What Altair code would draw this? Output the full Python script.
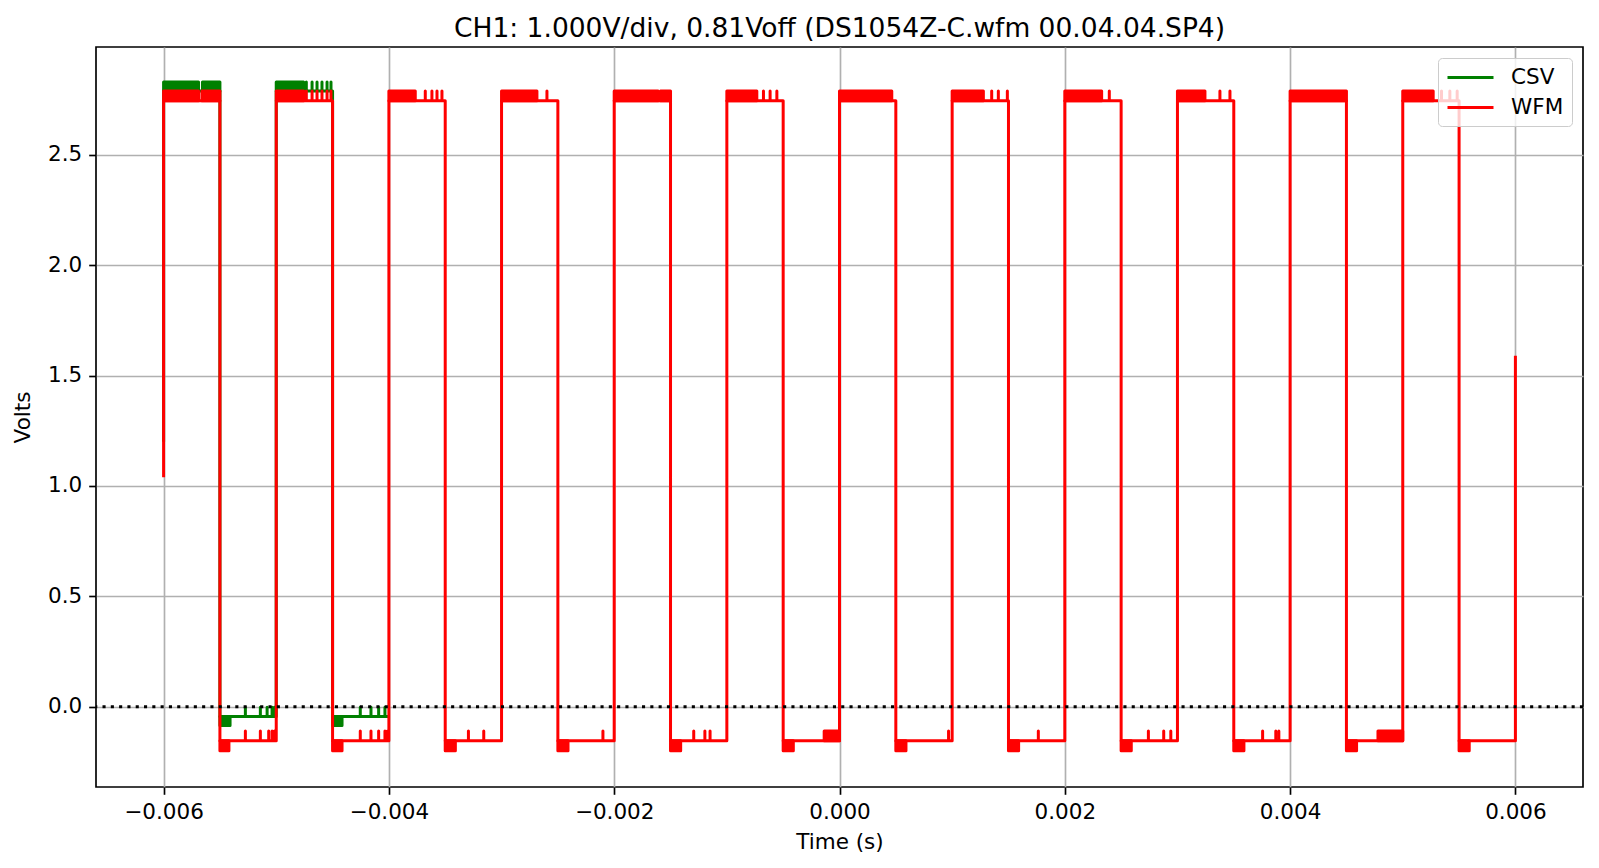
import altair as alt
import pandas as pd

# ---------------- data (times in milliseconds, volts) ----------------
RISE_MS = [-6.0, -5.0, -4.0, -3.0, -2.0, -1.0, 0.0, 1.0, 2.0, 3.0, 4.0, 5.0]
FALL_MS = [-5.5, -4.5, -3.5, -2.5, -1.5, -0.5, 0.5, 1.5, 2.5, 3.5, 4.5, 5.5]
END_MS = 6.0

WFM_START_V = 1.04
WFM_END_V = 1.59
WFM_HIGH = 2.745
WFM_PEAK = 2.79
WFM_LOW = -0.155
WFM_LOW_SPIKE = -0.11
WFM_DIP = -0.2

WFM_HIGH_BANDS = [
    [(-6.0, -5.69), (-5.66, -5.5)],
    [(-5.0, -4.757)],
    [(-4.0, -3.766)],
    [(-3.0, -2.686)],
    [(-2.0, -1.61), (-1.59, -1.5)],
    [(-1.0, -0.734)],
    [(0.0, 0.464)],
    [(1.0, 1.277)],
    [(2.0, 2.327)],
    [(3.0, 3.244)],
    [(4.0, 4.5)],
    [(5.0, 5.27)],
]
WFM_HIGH_SPIKES = [
    [],
    [-4.733, -4.682, -4.638, -4.594, -4.549, -4.514],
    [-3.677, -3.618, -3.573, -3.529],
    [-2.597],
    [],
    [-0.675, -0.616, -0.556],
    [],
    [1.351, 1.41, 1.49],
    [2.395],
    [3.377, 3.466],
    [],
    [5.344, 5.418, 5.483],
]
WFM_DIP_END = [-5.42, -4.416, -3.41, -2.41, -1.41, -0.41, 0.59, 1.59, 2.59, 3.59, 4.59, 5.59]
WFM_LOW_SPIKES = [
    [-5.274, -5.141, -5.067, -5.037, -5.015],
    [-4.254, -4.159, -4.091, -4.035, -4.012],
    [-3.294, -3.158],
    [-2.100],
    [-1.294, -1.195, -1.149],
    [],
    [0.968],
    [1.765],
    [2.742, 2.878, 2.941],
    [3.756, 3.873, 3.900],
    [],
    [],
]
WFM_LOW_BLOCKS = [(-0.136, 0.0), (4.78, 5.0)]

CSV_RISE_MS = [-6.0, -5.0]
CSV_FALL_MS = [-5.5, -4.5]
CSV_END_MS = -4.0
CSV_START_V = 1.2
CSV_HIGH = 2.79
CSV_PEAK = 2.83
CSV_LOW = -0.045
CSV_LOW_SPIKE = -0.003
CSV_DIP = -0.085
CSV_HIGH_BANDS = [[(-6.0, -5.69), (-5.655, -5.5)], [(-5.0, -4.757)]]
CSV_HIGH_SPIKES = [[], [-4.733, -4.682, -4.638, -4.594, -4.549, -4.514]]
CSV_DIP_END = [-5.41, -4.416]
CSV_LOW_SPIKES = [[-5.274, -5.141, -5.081, -5.037, -5.016],
                  [-4.254, -4.159, -4.091, -4.035]]

ZERO_LINE = [0.0]
X_TICKS = [-0.006, -0.004, -0.002, 0.0, 0.002, 0.004, 0.006]
Y_TICKS = [0.0, 0.5, 1.0, 1.5, 2.0, 2.5]
SERIES = ["CSV", "WFM"]
COLORS = ["#008000", "#ff0000"]
TITLE = "CH1: 1.000V/div, 0.81Voff (DS1054Z-C.wfm 00.04.04.SP4)"


def build_path(name, rises, falls, end, start_v, end_v, high, peak, low, lspike,
               hspikes, lspikes):
    pts = []
    for i, (r, f) in enumerate(zip(rises, falls)):
        pts.append((r, start_v if i == 0 else low))
        pts.append((r, high))
        for s in hspikes[i]:
            pts += [(s, high), (s, peak), (s, high)]
        pts.append((f, high))
        pts.append((f, low))
        for s in lspikes[i]:
            pts += [(s, low), (s, lspike), (s, low)]
        nxt = rises[i + 1] if i + 1 < len(rises) else end
        pts.append((nxt, low))
    if end_v is not None:
        pts.append((end, end_v))
    return pd.DataFrame({
        "t": [p[0] * 1e-3 for p in pts],
        "v": [p[1] for p in pts],
        "i": list(range(len(pts))),
        "series": name,
    })


def build_rects(bands, lo, hi, dips=None, falls=None, dlo=None, dhi=None, blocks=None, blo=None, bhi=None):
    rows = []
    for cyc in bands:
        for a, b in cyc:
            rows.append((a, b, lo, hi))
    if dips is not None:
        for f, d in zip(falls, dips):
            rows.append((f, d, dlo, dhi))
    if blocks is not None:
        for a, b in blocks:
            rows.append((a, b, blo, bhi))
    return pd.DataFrame({
        "t1": [r[0] * 1e-3 for r in rows],
        "t2": [r[1] * 1e-3 for r in rows],
        "v1": [r[2] for r in rows],
        "v2": [r[3] for r in rows],
    })


wfm = build_path("WFM", RISE_MS, FALL_MS, END_MS, WFM_START_V, WFM_END_V,
                 WFM_HIGH, WFM_PEAK, WFM_LOW, WFM_LOW_SPIKE, WFM_HIGH_SPIKES, WFM_LOW_SPIKES)
csv = build_path("CSV", CSV_RISE_MS, CSV_FALL_MS, CSV_END_MS, CSV_START_V, None,
                 CSV_HIGH, CSV_PEAK, CSV_LOW, CSV_LOW_SPIKE, CSV_HIGH_SPIKES, CSV_LOW_SPIKES)
wfm_r = build_rects(WFM_HIGH_BANDS, WFM_HIGH, WFM_PEAK, WFM_DIP_END, FALL_MS, WFM_DIP, WFM_LOW,
                    WFM_LOW_BLOCKS, WFM_LOW, WFM_LOW_SPIKE)
csv_r = build_rects(CSV_HIGH_BANDS, CSV_HIGH, CSV_PEAK, CSV_DIP_END, CSV_FALL_MS, CSV_DIP, CSV_LOW)

xs = alt.Scale(domain=[-0.0066, 0.0066], nice=False, zero=False)
ys = alt.Scale(domain=[-0.364, 2.989], nice=False, zero=False)
cs = alt.Scale(domain=SERIES, range=COLORS)

x_ax = alt.Axis(values=X_TICKS, format=".3f", title="Time (s)")
y_ax = alt.Axis(values=Y_TICKS, format=".1f", title="Volts")

legend = alt.Legend(title=None, orient="top-right", offset=11, padding=8,
                    fillColor="rgba(255,255,255,0.8)", strokeColor="#cccccc",
                    cornerRadius=4, labelFontSize=21.5, labelFont="DejaVu Sans",
                    labelColor="black", symbolType="M-1,0H3.6", symbolSize=400,
                    symbolStrokeWidth=3, labelOffset=42, rowPadding=8)

zero = alt.Chart(pd.DataFrame({"v": ZERO_LINE})).mark_rule(
    color="black", strokeWidth=3, strokeDash=[3.1, 5.2]).encode(y=alt.Y("v:Q", scale=ys, axis=y_ax))


def line_layer(df):
    return alt.Chart(df).mark_line(strokeWidth=3, strokeJoin="round", strokeCap="butt", clip=True).encode(
        x=alt.X("t:Q", scale=xs, axis=x_ax),
        y=alt.Y("v:Q", scale=ys, axis=y_ax),
        order="i:Q",
        color=alt.Color("series:N", scale=cs, legend=legend),
    )


def rect_layer(df, col):
    return alt.Chart(df).mark_rect(color=col, stroke=col, strokeWidth=3, strokeJoin="round", clip=True).encode(
        x=alt.X("t1:Q", scale=xs), x2="t2:Q",
        y=alt.Y("v1:Q", scale=ys), y2="v2:Q",
    )


chart = alt.layer(
    line_layer(csv), rect_layer(csv_r, COLORS[0]),
    line_layer(wfm), rect_layer(wfm_r, COLORS[1]),
    zero,
).properties(
    width=1487, height=740,
    title=alt.TitleParams(TITLE, fontSize=26.5, font="DejaVu Sans", fontWeight="normal",
                          color="black", offset=5, anchor="middle"),
    padding={"left": 88, "top": 39, "right": 5, "bottom": 75},
    autosize=alt.AutoSizeParams(type="none"),
).configure_view(stroke="black", strokeWidth=1.67).configure_axis(
    grid=True, gridColor="#b0b0b0", gridWidth=1.67, domain=False,
    tickColor="black", tickSize=7.3, tickWidth=1.67, labelPadding=7,
    labelFont="DejaVu Sans", labelFontSize=21.5, labelColor="black",
    titleFont="DejaVu Sans", titleFontSize=21.5, titleFontWeight="normal", titleColor="black",
).configure_axisX(titlePadding=9).configure_axisY(titlePadding=13)

chart.save("out.html", embed_options={"renderer": "svg", "actions": False})
